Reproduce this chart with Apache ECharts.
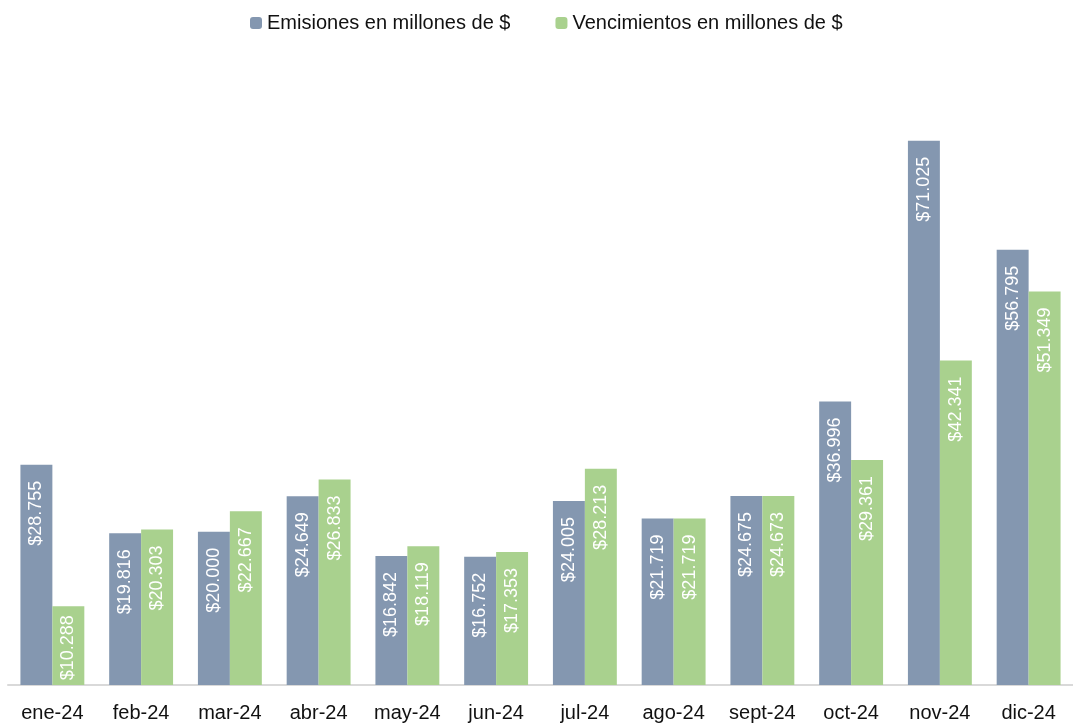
<!DOCTYPE html>
<html>
<head>
<meta charset="utf-8">
<script src="https://cdn.jsdelivr.net/npm/echarts@6/dist/echarts.min.js"></script>
<style>
html, body { margin: 0; padding: 0; background: #fff; }
#chart { width: 1073px; height: 725px; }
</style>
</head>
<body>
<div id="chart"></div>
<script>
var months = ["ene-24", "feb-24", "mar-24", "abr-24", "may-24", "jun-24", "jul-24", "ago-24", "sept-24", "oct-24", "nov-24", "dic-24"];
var emisiones = [28755, 19816, 20000, 24649, 16842, 16752, 24005, 21719, 24675, 36996, 71025, 56795];
var vencimientos = [10288, 20303, 22667, 26833, 18119, 17353, 28213, 21719, 24673, 29361, 42341, 51349];

// $28.755 style (dot as thousands separator)
function fmt(p) {
    var s = String(p.value);
    return "$" + s.replace(/\B(?=(\d{3})+(?!\d))/g, ".");
}

var barLabel = {
    show: true,
    position: "insideTop",
    rotate: 90,
    distance: 16,
    align: "right",
    verticalAlign: "middle",
    overflow: "none",
    color: "#fff",
    fontFamily: "Liberation Sans",
    fontSize: 18,
    formatter: fmt
};

// short bars: pull the label up so it stays inside the bar
function withLabels(arr) {
    return arr.map(function(v) {
        return v < 12000 ? { value: v, label: { distance: 9 } } : v;
    });
}

var myChart = echarts.init(document.getElementById("chart"));
var option = {
    animation: false,
    legend: {
        top: 8,
        left: 245,
        itemWidth: 12,
        itemHeight: 12,
        itemGap: 45,
        textStyle: { fontFamily: "Liberation Sans", fontSize: 20, color: "#111" },
        data: ["Emisiones en millones de $", "Vencimientos en millones de $"]
    },
    grid: { left: 8, right: 0, top: 72, bottom: 40, containLabel: false },
    xAxis: {
        type: "category",
        data: months,
        axisLine: { lineStyle: { color: "#d9d9d9", width: 2 } },
        axisTick: { show: false },
        axisLabel: { fontFamily: "Liberation Sans", fontSize: 20, color: "#111", margin: 18 }
    },
    yAxis: {
        type: "value",
        min: 0,
        max: 80000,
        show: false
    },
    series: [{
        name: "Emisiones en millones de $",
        type: "bar",
        barGap: "0%",
        barCategoryGap: "28%",
        itemStyle: { color: "#8497B0" },
        label: barLabel,
        data: withLabels(emisiones)
    }, {
        name: "Vencimientos en millones de $",
        type: "bar",
        itemStyle: { color: "#A9D18E" },
        label: barLabel,
        data: withLabels(vencimientos)
    }]
};
myChart.setOption(option);
</script>
</body>
</html>
